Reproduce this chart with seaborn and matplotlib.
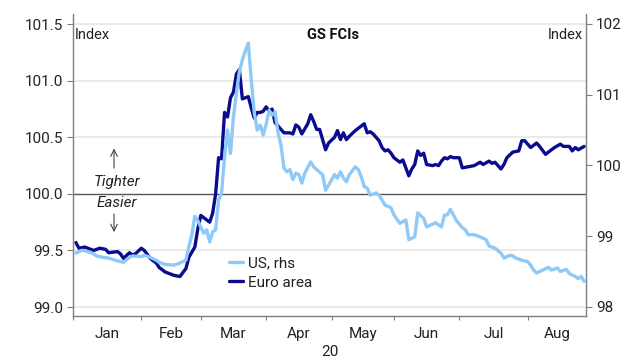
import numpy as np
import pandas as pd
import matplotlib
matplotlib.use("Agg")
import matplotlib.pyplot as plt
import seaborn as sns

# business days since 1 Jan 2020
eu_day = [1, 2, 4, 6, 7, 9, 11, 12, 15, 16, 17, 19, 20, 21, 23, 24, 26, 28, 29, 31,
          33, 34, 36, 38, 39, 41, 42, 43, 44, 46, 47, 48, 49, 50, 51, 52, 53, 54, 55, 56,
          57, 58, 59, 60, 61, 62, 63, 64, 65, 66, 67, 68, 69, 70, 71, 73, 74, 75, 76, 77,
          79, 80, 81, 82, 83, 84, 85, 86, 88, 89, 90, 91, 92, 93, 95, 97, 98, 99, 100, 101,
          102, 103, 104, 105, 106, 107, 108, 110, 111, 112, 113, 114, 115, 116, 117, 118, 119, 121, 122, 123,
          124, 125, 126, 127, 128, 130, 131, 133, 135, 137, 138, 140, 141, 142, 144, 145, 146, 148, 150, 151,
          152, 154, 156, 157, 159, 160, 162, 164, 165, 167, 168, 169, 170, 172]
eu_val = [99.57, 99.52, 99.53, 99.51, 99.50, 99.52, 99.51, 99.48, 99.49, 99.47, 99.43, 99.48, 99.46, 99.47, 99.52, 99.50, 99.43, 99.39, 99.35, 99.31,
          99.29, 99.28, 99.27, 99.34, 99.44, 99.53, 99.69, 99.81, 99.79, 99.75, 99.83, 100.00, 100.32, 100.31, 100.72, 100.68, 100.85, 100.90, 101.06, 101.10,
          100.84, 100.85, 100.86, 100.76, 100.67, 100.72, 100.72, 100.73, 100.77, 100.73, 100.75, 100.63, 100.60, 100.57, 100.54, 100.54, 100.53, 100.61, 100.59, 100.53,
          100.62, 100.70, 100.64, 100.57, 100.57, 100.48, 100.39, 100.45, 100.50, 100.56, 100.48, 100.54, 100.48, 100.51, 100.56, 100.60, 100.62, 100.54, 100.55, 100.53,
          100.50, 100.47, 100.41, 100.38, 100.39, 100.36, 100.32, 100.28, 100.30, 100.23, 100.16, 100.22, 100.26, 100.38, 100.34, 100.36, 100.26, 100.25, 100.26, 100.25,
          100.29, 100.32, 100.31, 100.33, 100.32, 100.32, 100.23, 100.24, 100.25, 100.28, 100.26, 100.29, 100.27, 100.28, 100.22, 100.26, 100.32, 100.37, 100.38, 100.47,
          100.47, 100.41, 100.45, 100.42, 100.35, 100.37, 100.41, 100.44, 100.42, 100.42, 100.38, 100.41, 100.39, 100.42]

us_day = [1, 3, 6, 8, 10, 12, 15, 17, 19, 20, 23, 24, 26, 28, 29, 31, 34, 36, 38, 39,
          40, 41, 42, 43, 44, 45, 46, 47, 48, 49, 50, 51, 52, 53, 54, 55, 56, 57, 58, 59,
          60, 61, 62, 63, 64, 65, 66, 67, 68, 69, 70, 71, 72, 73, 74, 75, 76, 77, 78, 80,
          81, 82, 84, 85, 86, 88, 89, 90, 91, 92, 93, 95, 96, 97, 98, 99, 100, 102, 103, 105,
          107, 108, 110, 112, 113, 114, 115, 116, 118, 119, 121, 122, 124, 125, 126, 127, 129, 131, 132, 133,
          135, 137, 139, 140, 142, 144, 145, 147, 148, 149, 151, 153, 154, 155, 156, 158, 160, 161, 163, 164,
          166, 167, 169, 170, 171, 172]
us_val = [98.76, 98.80, 98.77, 98.72, 98.70, 98.69, 98.65, 98.63, 98.70, 98.72, 98.71, 98.73, 98.70, 98.66, 98.63, 98.60, 98.59, 98.62, 98.66, 98.85,
          99.02, 99.28, 99.22, 99.13, 99.04, 99.09, 98.92, 99.06, 99.09, 99.51, 99.61, 100.12, 100.50, 100.17, 100.69, 101.02, 101.33, 101.49, 101.62, 101.73,
          101.20, 100.75, 100.50, 100.57, 100.43, 100.58, 100.78, 100.71, 100.76, 100.46, 100.29, 99.96, 99.91, 99.94, 99.80, 99.89, 99.87, 99.75, 99.89, 100.05,
          99.98, 99.94, 99.87, 99.65, 99.72, 99.87, 99.82, 99.91, 99.82, 99.77, 99.87, 99.98, 99.94, 99.84, 99.70, 99.68, 99.58, 99.61, 99.58, 99.44,
          99.40, 99.30, 99.18, 99.23, 98.95, 98.97, 98.99, 99.33, 99.25, 99.13, 99.17, 99.19, 99.13, 99.30, 99.30, 99.38, 99.22, 99.12, 99.09, 99.02,
          99.02, 98.99, 98.95, 98.86, 98.83, 98.76, 98.69, 98.73, 98.72, 98.69, 98.66, 98.64, 98.59, 98.52, 98.48, 98.52, 98.56, 98.52, 98.55, 98.50,
          98.53, 98.47, 98.43, 98.40, 98.43, 98.36]

month_starts = [0, 23, 43, 65, 87, 108, 130, 153, 173]
month_labels = ['Jan', 'Feb', 'Mar', 'Apr', 'May', 'Jun', 'Jul', 'Aug']
left_ticks = [99.0, 99.5, 100.0, 100.5, 101.0, 101.5]
right_ticks = [98, 99, 100, 101, 102]

US_COLOR = '#8ec9f7'
EU_COLOR = '#0a0c8f'
AX_COLOR = '#7f7f7f'

sns.set_theme(style='white')
plt.rcParams['font.family'] = ['Roboto', 'DejaVu Sans']

fig = plt.figure(figsize=(6.4, 3.6), dpi=100)
ax = fig.add_axes([0.114, 0.122, 0.802, 0.839])
ax2 = ax.twinx()

sns.lineplot(x=eu_day, y=eu_val, ax=ax, color=EU_COLOR, lw=2.4, legend=False)
sns.lineplot(x=us_day, y=us_val, ax=ax2, color=US_COLOR, lw=2.4, legend=False)

ax.set_xlim(0, 172.7)
ax.set_ylim(98.92, 101.59)
ax2.set_ylim(97.87, 102.14)

# grid + the zero-ish line
ax.set_yticks(left_ticks)
ax.set_yticklabels([f'{v:.1f}' for v in left_ticks])
for v in left_ticks:
    if v != 100.0:
        ax.axhline(v, color='#e8e8e8', lw=1.3, zorder=0)
ax.axhline(100.0, color='#555555', lw=1.0, zorder=1)

ax2.set_yticks(right_ticks)
ax2.set_yticklabels([str(v) for v in right_ticks])

# month boundaries as ticks, labels in the middle
mids = [(a + b) / 2 for a, b in zip(month_starts[:-1], month_starts[1:])]
ax.set_xticks(month_starts[:-1])
ax.set_xticklabels([])
ax.set_xticks(mids, minor=True)
ax.set_xticklabels(month_labels, minor=True)
ax.tick_params(axis='x', which='major', direction='out', length=3, width=0.8, color=AX_COLOR, bottom=True)
ax.tick_params(axis='x', which='minor', length=0, pad=8, labelsize=11, labelcolor='#222222')
ax.tick_params(axis='y', direction='out', length=4, width=0.8, color=AX_COLOR, left=True,
               labelsize=11, labelcolor='#222222', pad=3)
ax2.tick_params(axis='y', direction='out', length=4, width=0.8, color=AX_COLOR, right=True,
                labelsize=11, labelcolor='#222222', pad=3)
ax.set_xlabel('')
ax.set_ylabel('')
ax2.set_ylabel('')

for a in (ax, ax2):
    a.spines['top'].set_visible(False)
    for s in ('left', 'right', 'bottom'):
        a.spines[s].set_color(AX_COLOR)
        a.spines[s].set_linewidth(1.0)
ax.spines['right'].set_visible(False)
ax2.spines['left'].set_visible(False)
ax2.spines['bottom'].set_visible(False)

# texts
ax.text(0.004, 0.93, 'Index', transform=ax.transAxes, fontsize=10.5, color='#222222', va='center', ha='left')
ax.text(0.994, 0.93, 'Index', transform=ax.transAxes, fontsize=10.5, color='#222222', va='center', ha='right')
ax.text(0.507, 0.93, 'GS FCIs', transform=ax.transAxes, fontsize=10.5, fontweight='bold', color='#111111',
        va='center', ha='center')
ax.text(0.086, 0.445, 'Tighter', transform=ax.transAxes, fontsize=11, style='italic', color='#222222',
        va='center', ha='center')
ax.text(0.086, 0.373, 'Easier', transform=ax.transAxes, fontsize=11, style='italic', color='#222222',
        va='center', ha='center')
arrow = dict(arrowstyle='->', lw=0.8, color='#444444', shrinkA=0, shrinkB=0)
ax.annotate('', xy=(0.08, 0.555), xytext=(0.08, 0.49), xycoords='axes fraction', arrowprops=arrow)
ax.annotate('', xy=(0.08, 0.278), xytext=(0.08, 0.338), xycoords='axes fraction', arrowprops=arrow)
fig.text(0.516, 0.022, '20', fontsize=11, color='#222222', ha='center', va='center')

handles = [ax2.get_lines()[0], ax.get_lines()[0]]
leg = ax2.legend(handles, ['US, rhs', 'Euro area'], loc='center left',
                 bbox_to_anchor=(0.29, 0.143), frameon=False, fontsize=11,
                 handlelength=0.9, handletextpad=0.3, labelspacing=0.35, borderpad=0)
for t in leg.get_texts():
    t.set_color('#222222')

fig.savefig('out.png', dpi=100)
